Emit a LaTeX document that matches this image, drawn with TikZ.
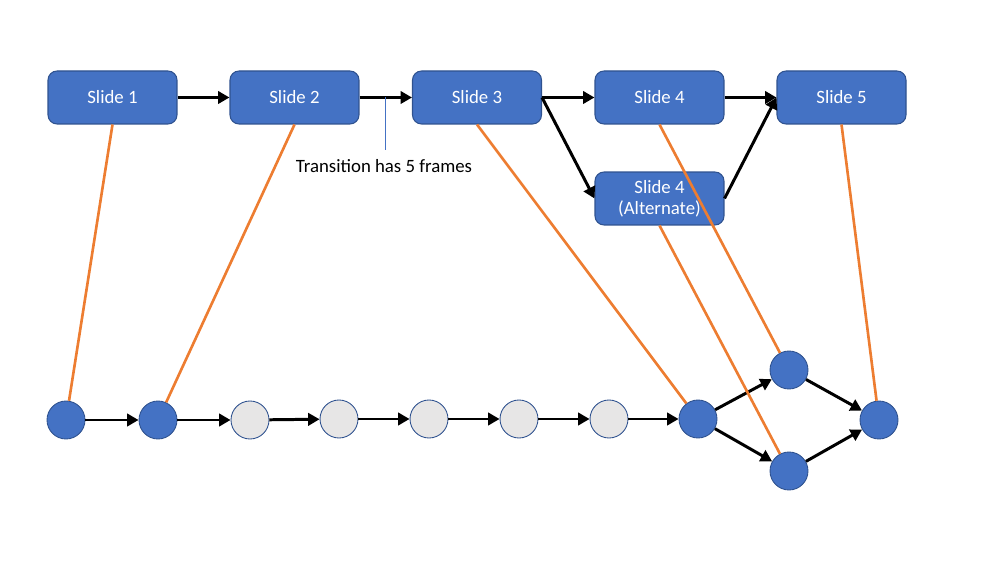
\documentclass[tikz,border=0pt]{standalone}
\usepackage{fontspec}
\setmainfont{Carlito}
\usetikzlibrary{arrows.meta,calc}
\definecolor{slideblue}{HTML}{4472C4}
\definecolor{slideedge}{HTML}{2F528F}
\definecolor{framegrey}{HTML}{E7E6E6}
\definecolor{linkorange}{HTML}{ED7D31}
\tikzset{
  slidebox/.style={draw=slideedge, line width=0.6pt, fill=slideblue, rounded corners=0.18cm,
    minimum width=2.58cm, minimum height=1.06cm, text=white, align=center,
    font=\fontsize{10.7pt}{12.2pt}\selectfont, inner sep=1pt},
  keyframe/.style={circle, draw=slideedge, line width=0.5pt, fill=slideblue, minimum size=0.76cm, inner sep=0pt},
  tweenframe/.style={keyframe, fill=framegrey},
  flow/.style={-{Triangle[length=6.5pt,width=7pt]}, line width=1.7pt, black},
  link/.style={linkorange, line width=1.5pt},
  note/.style={slideblue, line width=0.6pt}
}
\begin{document}
\begin{tikzpicture}[x=0.02cm, y=-0.02cm]
\useasboundingbox (0,0) rectangle (1000,563);

% slides
\node[slidebox] (s1) at (112.5,97.5) {Slide 1};
\node[slidebox] (s2) at (294.5,97.5) {Slide 2};
\node[slidebox] (s3) at (477,97.5) {Slide 3};
\node[slidebox] (s4) at (659.5,97.5) {Slide 4};
\node[slidebox] (s5) at (841.5,97.5) {Slide 5};
\node[slidebox] (s4a) at (659.5,198.5) {Slide 4\\(Alternate)};

% frames on the timeline
\node[keyframe] (f1) at (66,420) {};
\node[keyframe] (f2) at (158,420) {};
\node[tweenframe] (f3) at (250,420) {};
\node[tweenframe] (f4) at (339,419) {};
\node[tweenframe] (f5) at (429,419) {};
\node[tweenframe] (f6) at (519,419) {};
\node[tweenframe] (f7) at (609,419) {};
\node[keyframe] (f8) at (698,419) {};
\node[keyframe] (f9) at (789,370) {};
\node[keyframe] (f10) at (789,471) {};
\node[keyframe] (f11) at (879,420) {};

% slide order
\draw[flow] (s1) -- (s2);
\draw[flow] (s2) -- (s3);
\draw[flow] (s3.east) -- (s4);
\draw[flow] (s3.east) -- (s4a.west);
\draw[flow] (s4) -- (s5.west);
\draw[flow] (s4a.east) -- (s5.west);

% frame order
\draw[flow] (f1) -- (f2);
\draw[flow] (f2) -- (f3);
\draw[flow] (f3) -- (f4);
\draw[flow] (f4) -- (f5);
\draw[flow] (f5) -- (f6);
\draw[flow] (f6) -- (f7);
\draw[flow] (f7) -- (f8);
\draw[flow] (f8) -- (f9);
\draw[flow] (f8) -- (f10);
\draw[flow] (f9) -- (f11);
\draw[flow] (f10) -- (f11);

% transition callout
\coordinate (tick) at ($(s2.east)!0.5!(s3.west)$);
\node[font=\fontsize{10.7pt}{12.2pt}\selectfont, inner sep=0pt, anchor=north] (lbl) at (384,159) {Transition has 5 frames};
\draw[note] (tick) -- (tick |- 0,150);

% slide-to-frame links
\draw[link] (s1.south) -- (f1);
\draw[link] (s2.south) -- (f2);
\draw[link] (s3.south) -- (f8);
\draw[link] (s4.south) -- (f9);
\draw[link] (s4a.south) -- (f10);
\draw[link] (s5.south) -- (f11);
\end{tikzpicture}
\end{document}
